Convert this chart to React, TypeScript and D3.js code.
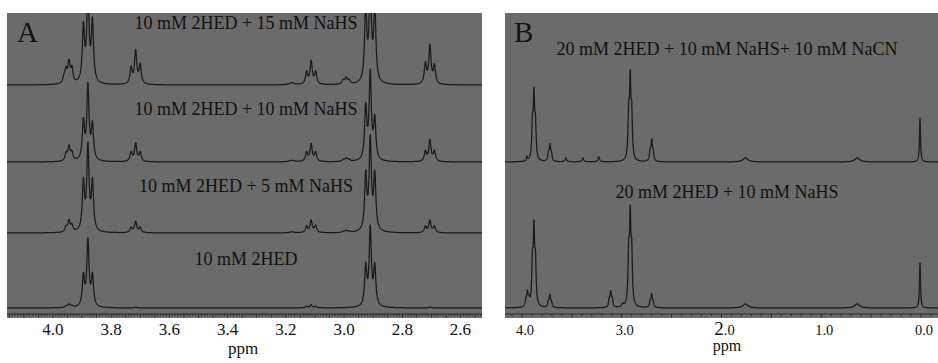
import * as d3 from 'd3';
import { useEffect, useRef } from 'react';

// peak = [ppm, height, half-width (ppm, optional)]
type Peak = [number, number, number?];

const panelALabels = [
  '10 mM 2HED + 15 mM NaHS',
  '10 mM 2HED + 10 mM NaHS',
  '10 mM 2HED + 5 mM NaHS',
  '10 mM 2HED',
];
const panelBLabels = ['20 mM 2HED + 10 mM NaHS+ 10 mM NaCN', '20 mM 2HED + 10 mM NaHS'];

const panelATicks = [4.0, 3.8, 3.6, 3.4, 3.2, 3.0, 2.8, 2.6];
const panelBTicks = [4, 3, 2, 1, 0];

// baseline offsets of the stacked spectra (same units as heights)
const panelAOffsets = [233, 156, 85, 10];
const panelBOffsets = [156, 10];

const traceA15: Peak[] = [
  [3.962, 6], [3.955, 12], [3.945, 20], [3.935, 14],
  [3.8955, 55], [3.88, 90], [3.8645, 60],
  [3.7315, 16], [3.716, 33], [3.7005, 19],
  [3.18, 2, 0.01],
  [3.1285, 12], [3.113, 23], [3.0975, 12],
  [3.003, 4], [2.993, 6], [2.983, 4],
  [2.9255, 75], [2.91, 95], [2.8945, 75],
  [2.7205, 20], [2.705, 38], [2.6895, 18],
];
const traceA10: Peak[] = [
  [3.955, 7], [3.945, 14], [3.935, 8],
  [3.8955, 38], [3.88, 74], [3.8645, 35],
  [3.7315, 9], [3.716, 18], [3.7005, 9],
  [3.18, 1.5, 0.01],
  [3.1285, 9], [3.113, 17], [3.0975, 9],
  [3.003, 2], [2.993, 3], [2.983, 2],
  [2.9255, 52], [2.91, 86], [2.8945, 40],
  [2.7205, 10], [2.705, 21], [2.6895, 10],
];
const traceA5: Peak[] = [
  [3.955, 5], [3.945, 11], [3.935, 6],
  [3.8955, 48], [3.88, 84], [3.8645, 48],
  [3.7315, 5], [3.716, 11], [3.7005, 5],
  [3.18, 1, 0.01],
  [3.1285, 6], [3.113, 12], [3.0975, 7],
  [3.003, 1], [2.993, 2], [2.983, 1],
  [2.9255, 55], [2.91, 90], [2.8945, 55],
  [2.7205, 6], [2.705, 12], [2.6895, 6],
];
const traceA0: Peak[] = [
  [3.955, 1.5], [3.945, 3], [3.935, 1.5],
  [3.8955, 30], [3.88, 66], [3.8645, 30],
  [3.716, 0.8],
  [3.1285, 1.5], [3.113, 3], [3.0975, 1.5],
  [2.9255, 39], [2.91, 77], [2.8945, 39],
  [2.705, 1],
];

const traceBCN: Peak[] = [
  [3.95, 4, 0.006],
  [3.895, 33], [3.88, 60], [3.865, 33],
  [3.735, 7], [3.72, 15], [3.705, 7],
  [3.56, 4, 0.01], [3.39, 4, 0.01], [3.23, 5, 0.01],
  [2.93, 42], [2.915, 74], [2.9, 42],
  [2.715, 9], [2.7, 19], [2.685, 9],
  [1.76, 4, 0.03], [0.64, 4, 0.03],
  [0.01, 44, 0.006],
];
const traceBHS: Peak[] = [
  [3.96, 6], [3.945, 13], [3.93, 6],
  [3.895, 40], [3.88, 70], [3.865, 40],
  [3.735, 5], [3.72, 11], [3.705, 5],
  [3.125, 7], [3.11, 14], [3.095, 7],
  [2.99, 3, 0.01],
  [2.93, 48], [2.915, 82], [2.9, 48],
  [2.715, 5], [2.7, 12], [2.685, 5],
  [1.76, 4, 0.03], [0.64, 4, 0.03],
  [0.01, 45, 0.006],
];

const panelATraces = [traceA15, traceA10, traceA5, traceA0];
const panelBTraces = [traceBCN, traceBHS];

function spectrum(peaks: Peak[], lo: number, hi: number, step: number, width: number) {
  return d3.range(lo, hi + step / 2, step).map((ppm) => [
    ppm,
    d3.sum(peaks, (p) => {
      const d = (ppm - p[0]) / (p[2] ?? width);
      return p[1] / (1 + d * d);
    }),
  ]);
}

export default function App() {
  const ref = useRef<SVGSVGElement>(null);

  useEffect(() => {
    const svg = d3.select(ref.current);
    svg.selectAll('*').remove();

    const top = 13;
    const bottom = 318;
    const axisY = 314;
    const bg = '#6b6b6b';
    const ink = '#1a1a1a';
    const font = '"Liberation Serif", "Times New Roman", serif';

    const y = d3.scaleLinear().domain([0, bottom - top]).range([bottom, top]);

    const panels = [
      {
        id: 'A', left: 7, right: 482,
        x: d3.scaleLinear().domain([4.158, 2.526]).range([7, 482]),
        traces: panelATraces, offsets: panelAOffsets, width: 0.0045,
        labels: panelALabels, labelX: 246, labelY: [29, 115, 192, 265],
        ticks: panelATicks, minor: 0.01, major: 0.05, tickSize: 17, tickDx: 0,
        ppmX: 243, ppmY: 354, ppmSize: 17,
      },
      {
        id: 'B', left: 505, right: 938,
        x: d3.scaleLinear().domain([4.17, -0.1704]).range([505, 938]),
        traces: panelBTraces, offsets: panelBOffsets, width: 0.008,
        labels: panelBLabels, labelX: 727, labelY: [55, 198],
        ticks: panelBTicks, minor: 0.1, major: 0.5, tickSize: 14.5, tickDx: 3,
        ppmX: 727, ppmY: 351, ppmSize: 16,
      },
    ];

    panels.forEach((p) => {
      const g = svg.append('g');
      const [d0, d1] = p.x.domain();

      g.append('rect')
        .attr('x', p.left)
        .attr('y', top)
        .attr('width', p.right - p.left)
        .attr('height', bottom - top)
        .attr('fill', bg);

      g.append('clipPath')
        .attr('id', `clip-${p.id}`)
        .append('rect')
        .attr('x', p.left)
        .attr('y', top)
        .attr('width', p.right - p.left)
        .attr('height', bottom - top);

      const line = d3.line<number[]>()
        .x((d) => p.x(d[0]))
        .y((d) => y(d[1]));

      p.traces.forEach((peaks, i) => {
        const data = spectrum(peaks, d1, d0, 0.0008, p.width).map((d) => [d[0], d[1] + p.offsets[i]]);
        g.append('path')
          .attr('clip-path', `url(#clip-${p.id})`)
          .attr('d', line(data))
          .attr('fill', 'none')
          .attr('stroke', ink)
          .attr('stroke-width', 1.25)
          .attr('stroke-linejoin', 'round');
      });

      // axis along the bottom of the panel
      g.append('line')
        .attr('x1', p.left)
        .attr('x2', p.right)
        .attr('y1', axisY)
        .attr('y2', axisY)
        .attr('stroke', '#2a2a2a')
        .attr('stroke-width', 1);

      const minorTicks = d3.range(Math.ceil(d1 / p.minor), Math.floor(d0 / p.minor) + 1).map((k) => k * p.minor);
      g.selectAll('line.tick')
        .data(minorTicks)
        .enter()
        .append('line')
        .attr('class', 'tick')
        .attr('x1', (d) => p.x(d))
        .attr('x2', (d) => p.x(d))
        .attr('y1', axisY)
        .attr('y2', (d) => axisY + (Math.abs(d / p.major - Math.round(d / p.major)) < 1e-6 ? 3.5 : 2))
        .attr('stroke', '#2a2a2a')
        .attr('stroke-width', 1);

      g.selectAll('text.ticklabel')
        .data(p.ticks)
        .enter()
        .append('text')
        .attr('class', 'ticklabel')
        .attr('x', (d) => p.x(d) + p.tickDx)
        .attr('y', 335)
        .attr('text-anchor', 'middle')
        .style('font-family', font)
        .style('font-size', `${p.tickSize}px`)
        .style('fill', '#111')
        .each(function (d) {
          const t = d3.select(this);
          const s = d.toFixed(1);
          if (p.id === 'B' && d === 2) {
            t.append('tspan').style('font-size', '19px').text(s[0]);
            t.append('tspan').text(s.slice(1));
          } else {
            t.text(s);
          }
        });

      g.append('text')
        .attr('x', p.ppmX)
        .attr('y', p.ppmY)
        .attr('text-anchor', 'middle')
        .style('font-family', font)
        .style('font-size', `${p.ppmSize}px`)
        .style('fill', '#111')
        .text('ppm');

      g.selectAll('text.trace')
        .data(p.labels)
        .enter()
        .append('text')
        .attr('class', 'trace')
        .attr('x', p.labelX)
        .attr('y', (_, i) => p.labelY[i])
        .attr('text-anchor', 'middle')
        .style('font-family', font)
        .style('font-size', '18px')
        .style('fill', '#111')
        .text((d) => d);

      g.append('text')
        .attr('x', p.id === 'A' ? 17 : 514)
        .attr('y', 42)
        .style('font-family', font)
        .style('font-size', '29px')
        .style('fill', '#111')
        .text(p.id);
    });
  }, []);

  return (
    <svg
      ref={ref}
      width={938}
      height={363}
      style={{ position: 'absolute', left: 0, top: 0, background: '#fff' }}
    />
  );
}
